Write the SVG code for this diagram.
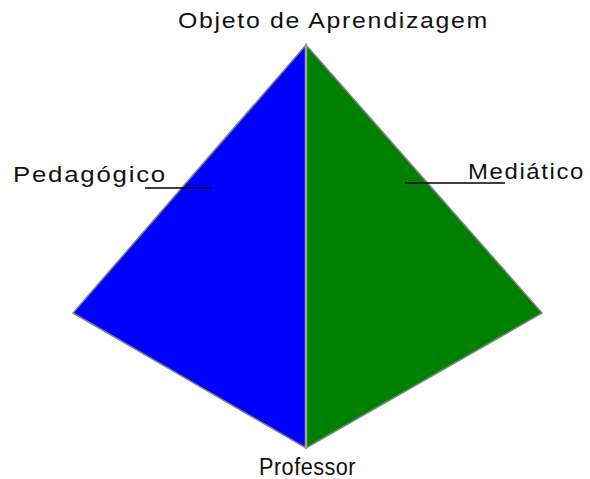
<svg xmlns="http://www.w3.org/2000/svg" width="590" height="479" viewBox="0 0 590 479">
<style>
text{font-family:"Liberation Sans",Arial,sans-serif;font-size:22px;fill:#111;letter-spacing:1.5px}
.face{stroke:#808080;stroke-width:1.5;stroke-linejoin:miter}
.lead{stroke:#000;stroke-width:1.3;fill:none}
</style>
<rect width="590" height="479" fill="#fff"/>
<g id="pedagogico">
<polygon class="face" points="306,45 73,313 306,448" fill="#0000ff"/>
<text x="13" y="182" textLength="154" lengthAdjust="spacingAndGlyphs">Pedagógico</text>
</g>
<g id="mediatico">
<polygon class="face" points="306,45 542,313 306,448" fill="#008000"/>
<text x="468" y="179" textLength="117" lengthAdjust="spacingAndGlyphs">Mediático</text>
</g>
<g id="objeto">
<text x="178" y="28" textLength="311" lengthAdjust="spacingAndGlyphs">Objeto de Aprendizagem</text>
</g>
<g id="professor">
<text x="259" y="475" textLength="97" lengthAdjust="spacingAndGlyphs" style="font-size:23px;letter-spacing:0.5px">Professor</text>
</g>
<g id="connectors">
<line x1="306" y1="45" x2="306" y2="448" stroke="#a0a0a0" stroke-width="2.5"/>
<line class="lead" x1="145" y1="188" x2="212" y2="188"/>
<line class="lead" x1="405" y1="183" x2="505" y2="183"/>
</g>
</svg>
